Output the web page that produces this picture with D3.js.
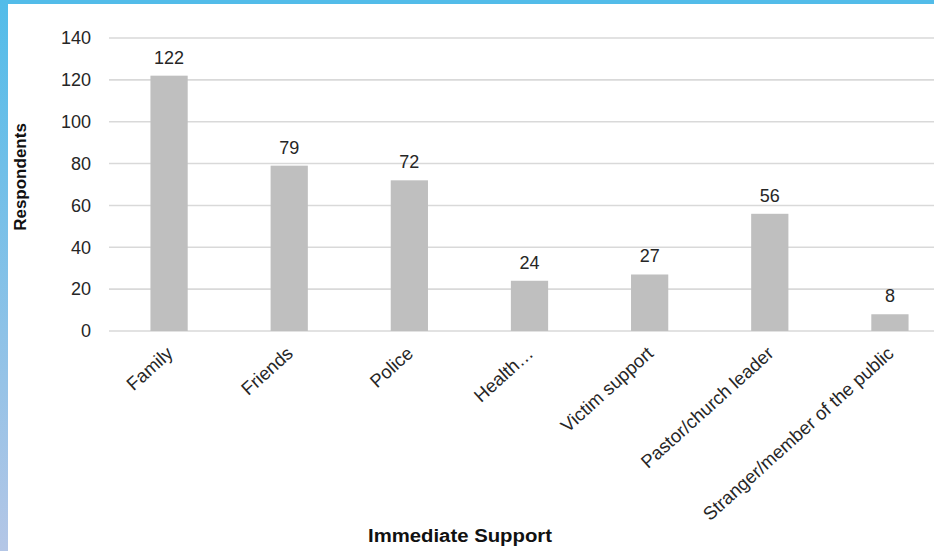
<!DOCTYPE html>
<html><head><meta charset="utf-8">
<script src="https://cdn.jsdelivr.net/npm/d3@7"></script>
<style>
html,body{margin:0;padding:0;background:#fff;overflow:hidden;}
svg{display:block;font-family:"Liberation Sans",Arial,sans-serif;}
</style></head>
<body>
<svg id="c" width="934" height="551"></svg>
<script>
const categories = ["Family","Friends","Police","Health\u2026","Victim support","Pastor/church leader","Stranger/member of the public"];
const values = [122,79,72,24,27,56,8];
const yTicks = [0,20,40,60,80,100,120,140];
const xTitle = "Immediate Support";
const yTitle = "Respondents";

const svg = d3.select("#c");
const defs = svg.append("defs");
const grad = defs.append("linearGradient").attr("id","lb").attr("x1",0).attr("y1",0).attr("x2",0).attr("y2",1);
grad.append("stop").attr("offset","0%").attr("stop-color","#52bce9");
grad.append("stop").attr("offset","100%").attr("stop-color","#b4c6e6");
svg.append("rect").attr("x",0).attr("y",0).attr("width",934).attr("height",4).attr("fill","#52bce9");
svg.append("rect").attr("x",0).attr("y",0).attr("width",8).attr("height",551).attr("fill","url(#lb)");

const x = d3.scaleBand().domain(categories).range([109,950]).paddingInner(0.69).paddingOuter(0.345);
const y = d3.scaleLinear().domain([0,140]).range([331,38]);

// gridlines
svg.append("g").selectAll("line").data(yTicks).join("line")
  .attr("x1",109).attr("x2",934)
  .attr("y1",d=>y(d)).attr("y2",d=>y(d))
  .attr("stroke","#d9d9d9").attr("stroke-width",1.6);

// y tick labels
const yAxis = svg.append("g").attr("transform","translate(109,0)")
  .call(d3.axisLeft(y).tickValues(yTicks).tickSize(0).tickPadding(18));
yAxis.select(".domain").remove();
yAxis.selectAll("text").attr("font-size",18).attr("fill","#262626").attr("font-family","'Liberation Sans',Arial,sans-serif");

// bars
svg.append("g").selectAll("rect").data(values).join("rect")
  .attr("x",(d,i)=>x(categories[i])).attr("width",x.bandwidth())
  .attr("y",d=>y(d)).attr("height",d=>y(0)-y(d))
  .attr("fill","#bfbfbf");

// value labels
svg.append("g").selectAll("text").data(values).join("text")
  .attr("x",(d,i)=>x(categories[i])+x.bandwidth()/2)
  .attr("y",d=>y(d)-12)
  .attr("text-anchor","middle").attr("font-size",18).attr("fill","#262626")
  .text(d=>d);

// x labels
const xAxis = svg.append("g").attr("transform","translate(0,331)")
  .call(d3.axisBottom(x).tickSize(0).tickPadding(0));
xAxis.select(".domain").remove();
xAxis.selectAll("text")
  .attr("font-size",18.5).attr("fill","#262626").attr("font-family","'Liberation Sans',Arial,sans-serif")
  .attr("text-anchor","end").attr("dy",0)
  .attr("transform","translate(5,24) rotate(-42)");

// titles
svg.append("text").attr("x",460).attr("y",542).attr("text-anchor","middle")
  .attr("font-size",18).attr("font-weight","bold").attr("fill","#111")
  .attr("textLength",184).attr("lengthAdjust","spacingAndGlyphs").text(xTitle);
svg.append("text").attr("transform","translate(26,177) rotate(-90)").attr("text-anchor","middle")
  .attr("font-size",17).attr("font-weight","bold").attr("fill","#111").text(yTitle);
</script>
</body></html>
